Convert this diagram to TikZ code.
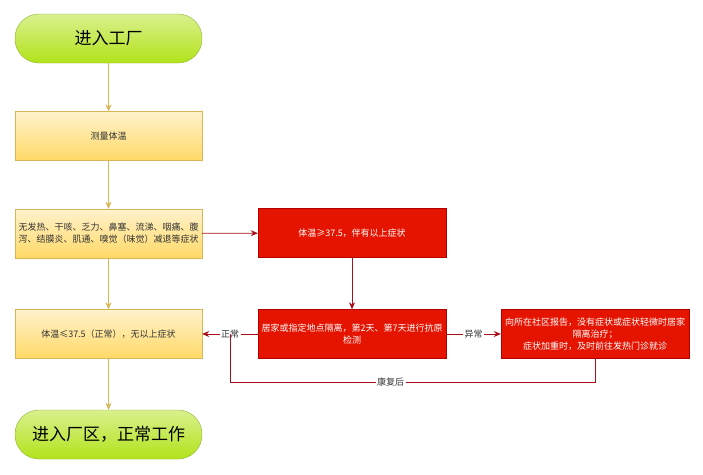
\documentclass[tikz,border=0pt]{standalone}
\usepackage{fontspec}
\setmainfont{Noto Sans CJK SC}
\usepackage{tikz}
\usetikzlibrary{arrows.meta}

\definecolor{ylfill}{HTML}{FFF2CC}
\definecolor{ylshade}{HTML}{FFD966}
\definecolor{ylline}{HTML}{D6B656}
\definecolor{grtop}{HTML}{D9F08E}
\definecolor{grbot}{HTML}{B2E31A}
\definecolor{grline}{HTML}{8DB534}
\definecolor{rdfill}{HTML}{E51400}
\definecolor{rdline}{HTML}{B20000}
\definecolor{rdarrow}{HTML}{A8101A}
\definecolor{lbltext}{HTML}{333333}

\tikzset{
	terminal/.style={draw=grline, top color=grtop, bottom color=grbot, rounded corners=24pt,
		minimum width=187pt, minimum height=49pt, font=\fontsize{17}{20}\selectfont, text=black},
	ybox/.style={draw=ylline, top color=ylfill, bottom color=ylshade, minimum width=187pt,
		minimum height=49pt, align=center, font=\fontsize{9}{12}\selectfont, text=lbltext},
	rbox/.style={draw=rdline, fill=rdfill, minimum width=188pt, minimum height=49pt,
		align=center, font=\fontsize{9}{12}\selectfont, text=white},
	yarrow/.style={draw=ylline, -{Stealth[length=7pt,width=6pt]}},
	rarrow/.style={draw=rdarrow, thick, -{Stealth[length=7pt,width=6pt]}},
	lbl/.style={fill=white, inner sep=1.5pt, font=\fontsize{9}{11}\selectfont, text=lbltext}
}

\begin{document}
\begin{tikzpicture}[x=1pt, y=-1pt]
	\useasboundingbox (0,0) rectangle (703,474);
	% left column
	\node[terminal] (start) at (108.5,38.5) {进入工厂};
	\node[ybox] (measure) at (108.5,136) {测量体温};
	\node[ybox] (sympt) at (108.5,233.5) {无发热、干咳、乏力、鼻塞、流涕、咽痛、腹\\泻、结膜炎、肌通、嗅觉（味觉）减退等症状};
	\node[ybox] (normal) at (108.5,334) {体温≤37.5（正常），无以上症状};
	\node[terminal] (finish) at (108.5,434.5) {进入厂区，正常工作};
	% red branch
	\node[rbox] (fever) at (352,233) {体温≥37.5，伴有以上症状};
	\node[rbox] (isolate) at (352,334) {居家或指定地点隔离，第2天、第7天进行抗原\\检测};
	\node[rbox] (report) at (595,334) {向所在社区报告，没有症状或症状轻微时居家\\隔离治疗；\\症状加重时，及时前往发热门诊就诊};
	\coordinate (back) at (230,382);
	\coordinate (join) at (230,334);

	\draw[yarrow] (start) -- (measure);
	\draw[yarrow] (measure) -- (sympt);
	\draw[yarrow] (sympt) -- (normal);
	\draw[yarrow] (normal) -- (finish);
	\draw[rarrow] (sympt) -- (fever);
	\draw[rarrow] (fever) -- (isolate);
	\draw[rarrow] (isolate) -- node[lbl] {正常} (normal);
	\draw[rarrow] (isolate) -- node[lbl] {异常} (report);
	\draw[draw=rdarrow, thick] (report.south) |- node[lbl, pos=0.78] {康复后} (back) -- (join);
\end{tikzpicture}
\end{document}
